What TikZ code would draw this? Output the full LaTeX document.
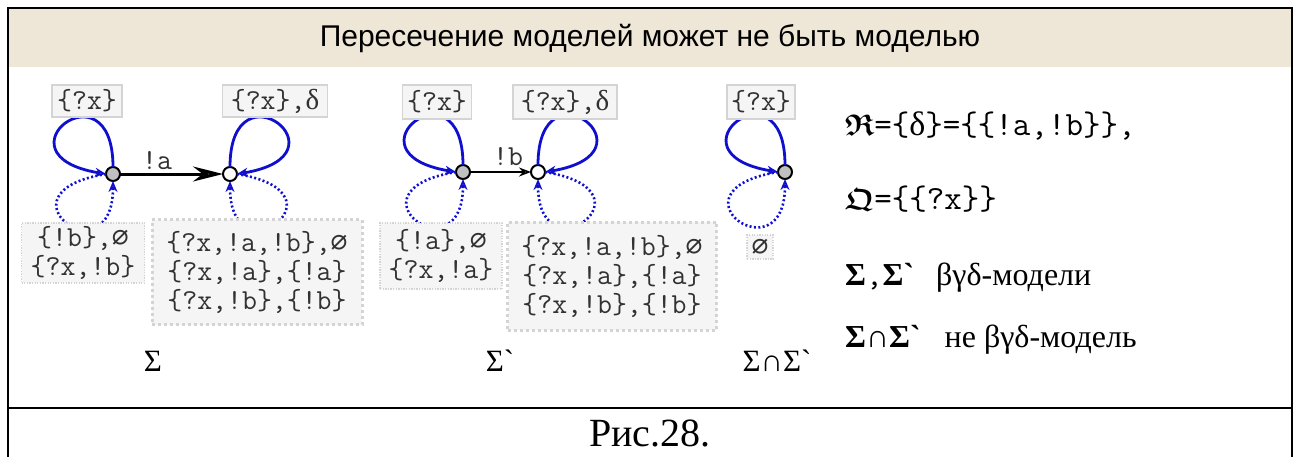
\documentclass[tikz,border=0pt]{standalone}
\usepackage{fontspec}
\usepackage{amsmath,amssymb}
\usepackage{graphicx}
\setmainfont{Liberation Serif}
\newfontfamily\tms{Liberation Serif}
\newfontfamily\arl{Liberation Sans}
\newfontfamily\dvm{DejaVu Sans Mono}
\usetikzlibrary{arrows.meta}
\definecolor{titlebg}{RGB}{238,230,214}
\definecolor{loopblue}{RGB}{15,15,205}
\definecolor{boxline}{RGB}{212,212,212}
\definecolor{boxfill}{RGB}{245,245,245}
\definecolor{boxtext}{RGB}{50,50,50}
\definecolor{stategray}{RGB}{192,192,192}
\newcommand{\es}{{\dvm\fontsize{28}{29}\selectfont ∅}}
\newcommand{\dl}{{\tms δ}}
\tikzset{
  frameline/.style={line width=2pt, black},
  state/.style={circle, draw=black, line width=2pt, minimum size=14pt, inner sep=0pt, outer sep=0pt},
  loopS/.style={draw=loopblue, line width=2.8pt, -{Stealth[open,length=11pt,width=9pt,line width=1.6pt]}},
  loopD/.style={draw=loopblue, line width=2.6pt, dash pattern=on 2pt off 2.4pt, -{Stealth[open,length=11pt,width=9pt,line width=1.6pt]}},
  tbox/.style={draw=boxline, fill=boxfill, line width=1.3pt, inner sep=0pt, text=boxtext,
    font=\ttfamily\fontsize{29}{29}\selectfont},
  dbox/.style={draw=boxline, fill=boxfill, line width=1.3pt, dash pattern=on 1.3pt off 1.3pt,
    inner sep=0pt, align=center, text=boxtext, font=\ttfamily\fontsize{29}{29}\selectfont},
  ddbox/.style={draw=boxline, fill=boxfill, line width=3pt, dash pattern=on 3pt off 3pt,
    inner sep=0pt, align=center, text=boxtext, font=\ttfamily\fontsize{29}{29}\selectfont},
  elab/.style={text=boxtext, inner sep=0pt, font=\ttfamily\fontsize{29}{29}\selectfont},
  glab/.style={inner sep=0pt, font=\tms\fontsize{31}{31}\selectfont},
  rtext/.style={anchor=base west, inner sep=0pt, font=\tms\fontsize{32}{32}\selectfont},
}
\begin{document}
\begin{tikzpicture}[x=1pt,y=-1pt]
\useasboundingbox (0,0) rectangle (1300,456);
% frame and title band
\fill[titlebg] (8,8) rectangle (1292,67);
\draw[frameline] (8,460) -- (8,8) -- (1292,8) -- (1292,460);
\draw[frameline] (8,408) -- (1292,408);
\node[font=\arl\fontsize{30}{30}\selectfont] (title) at (650,38) {Пересечение моделей может не быть моделью};
\node[font=\tms\fontsize{40}{40}\selectfont] (caption) at (650,433) {Рис.28.};

% ---------- Sigma ----------
\node[state, fill=stategray] (n1) at (113,174) {};
\node[state, fill=white] (n2) at (230,174) {};
\draw[line width=3pt, -{Stealth[open,length=30pt,width=15pt,line width=3.2pt]}] (n1) -- (n2);
\node[elab] (la) at (157,161) {!a};
\draw[loopS] (n1.north) .. controls +(0,-107) and +(-116,-19) .. (n1.west);
\draw[loopD] (n1.west) .. controls +(-116,19) and +(0,99) .. (n1.south);
\draw[loopS] (n2.north) .. controls +(0,-107) and +(116,-19) .. (n2.east);
\draw[loopD] (n2.east) .. controls +(116,19) and +(0,99) .. (n2.south);
\node[tbox, minimum width=70pt, minimum height=32pt] (b1) at (87,101) {\{?x\}};
\node[tbox, minimum width=105pt, minimum height=32pt] (b2) at (275,101) {\{?x\},\dl};
\node[dbox, minimum width=123pt, minimum height=60pt] (b3) at (83,253) {\{!b\},\es\\\{?x,!b\}};
\node[ddbox, minimum width=210pt, minimum height=105pt] (b4) at (257,272) {\{?x,!a,!b\},\es\\\{?x,!a\},\{!a\}\\\{?x,!b\},\{!b\}};
\node[glab] (s1) at (153,361) {Σ};

% ---------- Sigma' ----------
\node[state, fill=stategray] (n3) at (463,172) {};
\node[state, fill=white] (n4) at (538,172) {};
\draw[line width=1.8pt, -{Stealth[open,length=12pt,width=9pt,line width=1.6pt]}] (n3) -- (n4);
\node[elab] (lb) at (508,157) {!b};
\draw[loopS] (n3.north) .. controls +(0,-107) and +(-116,-19) .. (n3.west);
\draw[loopD] (n3.west) .. controls +(-116,19) and +(0,99) .. (n3.south);
\draw[loopS] (n4.north) .. controls +(0,-107) and +(116,-19) .. (n4.east);
\draw[loopD] (n4.east) .. controls +(116,19) and +(0,99) .. (n4.south);
\node[tbox, minimum width=69pt, minimum height=34pt] (b5) at (437,102) {\{?x\}};
\node[tbox, minimum width=104pt, minimum height=34pt] (b6) at (565,102) {\{?x\},\dl};
\node[dbox, minimum width=122pt, minimum height=66pt] (b7) at (441,256) {\{!a\},\es\\\{?x,!a\}};
\node[ddbox, minimum width=209pt, minimum height=108pt] (b8) at (612,276) {\{?x,!a,!b\},\es\\\{?x,!a\},\{!a\}\\\{?x,!b\},\{!b\}};
\node[glab] (s2) at (500,361) {Σ\symbol{96}};

% ---------- Sigma cap Sigma' ----------
\node[state, fill=stategray] (n5) at (785,172) {};
\draw[loopS] (n5.north) .. controls +(0,-107) and +(-116,-19) .. (n5.west);
\draw[loopD] (n5.west) .. controls +(-116,19) and +(0,99) .. (n5.south);
\node[tbox, minimum width=68pt, minimum height=34pt] (b9) at (761,102) {\{?x\}};
\node[dbox, minimum width=26pt, minimum height=24pt] (b10) at (760,247) {\es};
\node[glab] (s3) at (777,361) {Σ∩Σ\symbol{96}};

% ---------- right-hand text ----------
\node[rtext] (r1) at (845,135) {\scalebox{1.2}{\fontsize{24.88}{30}\selectfont$\boldsymbol{\mathfrak{R}}$}{\ttfamily\fontsize{34}{34}\selectfont=\{{\tms δ}\}=\{\{!a,!b\}\},}};
\node[rtext] (r2) at (845,209) {\scalebox{1.2}{\fontsize{24.88}{30}\selectfont$\boldsymbol{\mathfrak{Q}}$}{\ttfamily\fontsize{34}{34}\selectfont=\{\{?x\}\}}};
\node[rtext] (r3) at (845,285) {{\bfseries Σ}{\ttfamily ,}{\bfseries Σ\symbol{96}}\hspace{22pt}βγδ-модели};
\node[rtext] (r4) at (845,347) {{\bfseries Σ∩Σ\symbol{96}}\hspace{24pt}не βγδ-модель};
\end{tikzpicture}
\end{document}
